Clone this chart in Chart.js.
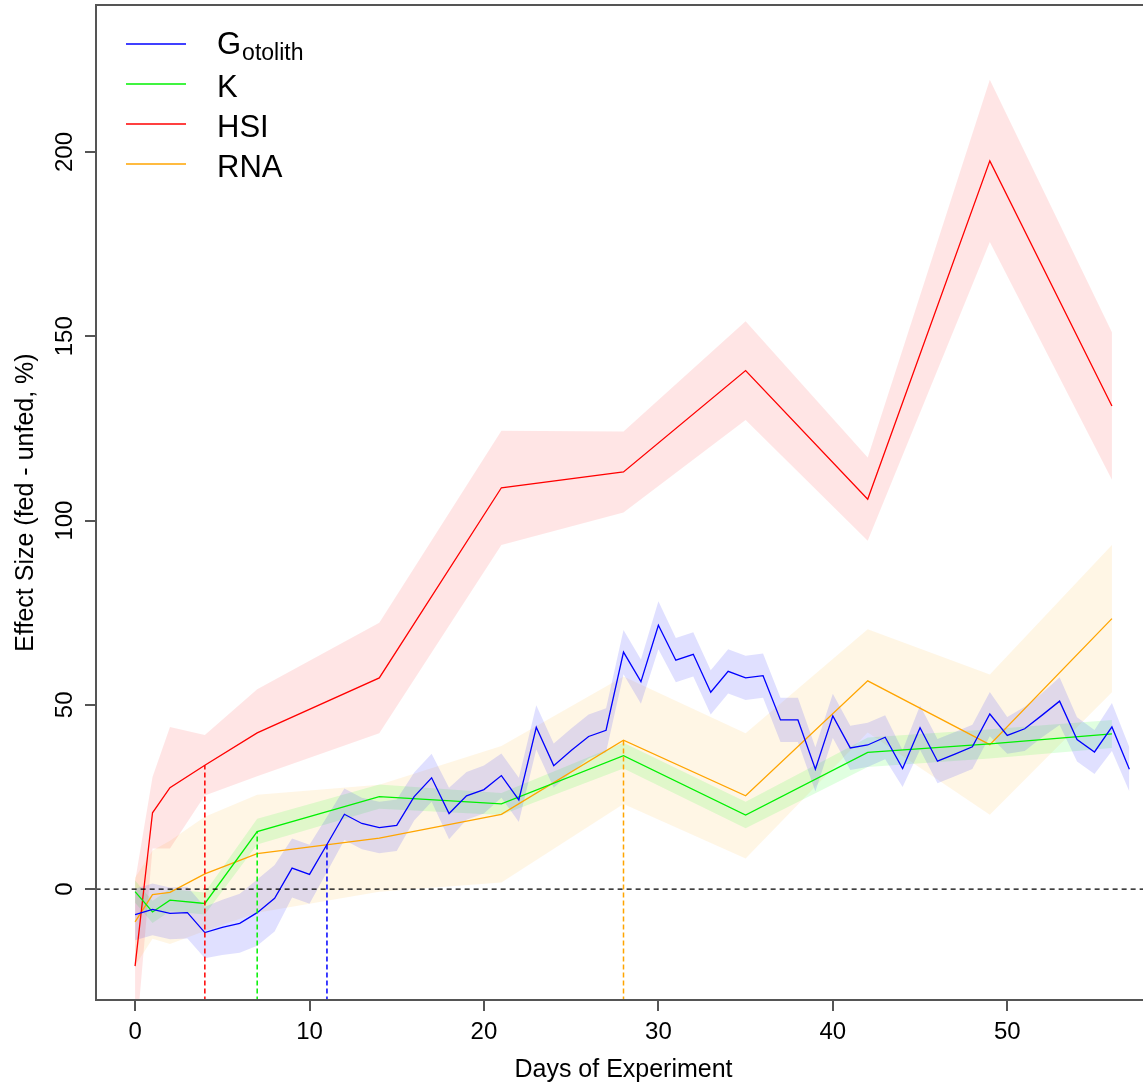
<!DOCTYPE html>
<html>
<head>
<meta charset="utf-8">
<script src="https://cdn.jsdelivr.net/npm/chart.js@4/dist/chart.umd.min.js"></script>
<style>
  html, body { margin: 0; padding: 0; overflow: hidden; background: #fff; }
  #wrap { position: absolute; left: 0; top: 0; width: 1160px; height: 1086px; }
</style>
</head>
<body>
<div id="wrap"><canvas id="effectChart" width="1160" height="1086"></canvas></div>
<script>
const FONT = "'Liberation Sans', Arial, Helvetica, sans-serif";

//Otolith growth, sampled every day
const gotolithDays = [0, 1, 2, 3, 4, 5, 6, 7, 8, 9, 10, 11, 12, 13, 14, 15, 16, 17, 18, 19,
  20, 21, 22, 23, 24, 25, 26, 27, 28, 29, 30, 31, 32, 33, 34, 35, 36, 37, 38, 39,
  40, 41, 42, 43, 44, 45, 46, 47, 48, 49, 50, 51, 52, 53, 54, 55, 56, 57];
const gotolith = [-6.9, -5.5, -6.6, -6.4, -11.8, -10.4, -9.3, -6.4, -2.5, 5.7,
  4.0, 12.1, 20.3, 17.8, 16.7, 17.3, 25.1, 30.2, 20.5, 25.3,
  27.0, 30.8, 24.2, 43.9, 33.5, 37.6, 41.4, 43.1, 64.3, 56.3,
  71.6, 62.1, 63.7, 53.4, 59.1, 57.3, 57.9, 45.9, 45.9, 32.5,
  47.0, 38.3, 39.1, 41.2, 32.7, 43.8, 34.7, 36.6, 38.6, 47.5,
  41.7, 43.5, 47.2, 51.0, 40.6, 37.2, 44.0, 32.5];
const gotolithSE = [7, 7, 7, 7, 7, 7.5, 8, 9, 9, 8,
  8, 7.5, 7, 7, 7, 7, 6.5, 6.5, 7, 6.5,
  6.5, 6, 6, 6, 6, 6, 6, 6, 6, 6,
  6.5, 6, 6, 6, 6, 6, 6, 6, 6, 6,
  6, 6, 6, 6, 5, 6, 6, 6, 6, 6,
  5, 6, 6, 6.5, 6, 6, 6.5, 6];

//K, HSI and RNA, sampled weekly
const sampleDays = [0, 1, 2, 4, 7, 14, 21, 28, 35, 42, 49, 56];
const kValues = [-0.7, -6.2, -3.0, -3.9, 15.6, 25.1, 23.1, 36.2, 20.1, 37.1, 39.4, 42.1];
const kSE = [3, 3, 3, 3, 3.5, 3.3, 3, 3.5, 3.6, 4, 4, 3.8];
const hsiValues = [-20.9, 20.7, 27.5, 33.6, 42.4, 57.3, 108.9, 113.2, 140.7, 105.8, 197.6, 131.1];
const hsiSE = [23, 9.7, 16.5, 8.2, 11.8, 15, 15.5, 11, 13.4, 11.3, 22, 20];
const rnaValues = [-8.9, -1.5, -0.9, 4.1, 9.6, 13.8, 20.3, 40.4, 25.3, 56.5, 39.2, 73.4];
const rnaSE = [12, 12, 14, 15.5, 16, 14.5, 18.5, 17.3, 17, 14, 19, 20];

//Day where fed and unfed first separate (dashed markers)
const splitDays = { gotolith: 11, k: 7, hsi: 4, rna: 28 };

const xTicks = [0, 10, 20, 30, 40, 50];
const yTicks = [0, 50, 100, 150, 200];

function points(days, vals, se, sign) {
  return days.map((d, i) => ({ x: d, y: vals[i] + sign * (se ? se[i] : 0) }));
}

const series = [
  { days: gotolithDays, vals: gotolith, se: gotolithSE, color: "#0000FF", band: "rgba(0,0,255,0.12)", split: splitDays.gotolith },
  { days: sampleDays, vals: kValues, se: kSE, color: "#00F000", band: "rgba(0,255,0,0.12)", split: splitDays.k },
  { days: sampleDays, vals: hsiValues, se: hsiSE, color: "#FF0000", band: "rgba(255,0,0,0.1)", split: splitDays.hsi },
  { days: sampleDays, vals: rnaValues, se: rnaSE, color: "#FFA500", band: "rgba(255,165,0,0.1)", split: splitDays.rna },
];

const datasets = [];
series.forEach((s) => {
  //band: lower edge, then upper edge filled down to it
  datasets.push({ data: points(s.days, s.vals, s.se, -1), borderWidth: 0, fill: false, order: 10 });
  datasets.push({ data: points(s.days, s.vals, s.se, 1), borderWidth: 0, fill: "-1", backgroundColor: s.band, order: 10 });
});
series.forEach((s) => {
  datasets.push({ data: points(s.days, s.vals, null, 0), borderColor: s.color, borderWidth: 1.3, fill: false, order: 2 });
});
series.forEach((s) => {
  const top = s.vals[s.days.indexOf(s.split)];
  datasets.push({
    data: [{ x: s.split, y: -100 }, { x: s.split, y: top }],
    borderColor: s.color, borderWidth: 1.5, borderDash: [5, 3], fill: false, order: 1,
  });
});
//zero line
datasets.push({
  data: [{ x: -10, y: 0 }, { x: 70, y: 0 }],
  borderColor: "#000", borderWidth: 1.3, borderDash: [5, 4], fill: false, order: 1,
});

//box, rotated y labels, axis titles and legend in R style
const rDecor = {
  id: "rDecor",
  afterDraw(chart) {
    const ctx = chart.ctx;
    const a = chart.chartArea;
    const yScale = chart.scales.y;
    ctx.save();
    ctx.strokeStyle = "#555";
    ctx.lineWidth = 2;
    ctx.strokeRect(a.left, a.top, a.right - a.left, a.bottom - a.top);

    ctx.fillStyle = "#000";
    ctx.font = "24px " + FONT;
    ctx.textAlign = "center";
    ctx.textBaseline = "alphabetic";
    yTicks.forEach((v) => {
      ctx.save();
      ctx.translate(72, yScale.getPixelForValue(v));
      ctx.rotate(-Math.PI / 2);
      ctx.fillText(String(v), 0, 0);
      ctx.restore();
    });

    ctx.font = "25px " + FONT;
    ctx.save();
    ctx.translate(33, (a.top + a.bottom) / 2);
    ctx.rotate(-Math.PI / 2);
    ctx.fillText("Effect Size (fed - unfed, %)", 0, 0);
    ctx.restore();

    ctx.fillText("Days of Experiment", (a.left + a.right) / 2, 1077);

    //legend
    const rows = [
      { color: "#0000FF", y: 44, label: "G", sub: "otolith" },
      { color: "#00F000", y: 84, label: "K" },
      { color: "#FF0000", y: 124, label: "HSI" },
      { color: "#FFA500", y: 164, label: "RNA" },
    ];
    ctx.textAlign = "left";
    rows.forEach((r) => {
      ctx.strokeStyle = r.color;
      ctx.lineWidth = 1.3;
      ctx.beginPath();
      ctx.moveTo(126, r.y);
      ctx.lineTo(186, r.y);
      ctx.stroke();
      ctx.font = "31px " + FONT;
      if (r.sub) {
        ctx.fillText(r.label, 217, r.y + 10);
        const w = ctx.measureText(r.label).width;
        ctx.font = "23px " + FONT;
        ctx.fillText(r.sub, 217 + w + 1, r.y + 16);
      } else {
        ctx.fillText(r.label, 217, r.y + 13);
      }
    });
    ctx.restore();
  },
};

new Chart(document.getElementById("effectChart"), {
  type: "line",
  data: { datasets: datasets },
  options: {
    responsive: false,
    animation: false,
    devicePixelRatio: 1,
    layout: { padding: { left: 0, right: 9, top: 5, bottom: 0 } },
    elements: { point: { radius: 0 }, line: { tension: 0 } },
    plugins: { legend: { display: false }, tooltip: { enabled: false } },
    scales: {
      x: {
        type: "linear",
        min: -2.24,
        max: 58.24,
        afterBuildTicks: (s) => { s.ticks = xTicks.map((v) => ({ value: v })); },
        afterFit: (s) => { s.height = 86; },
        border: { display: false },
        grid: { drawOnChartArea: false, tickLength: 11, color: "#555", lineWidth: 2 },
        ticks: { font: { family: FONT, size: 24 }, color: "#000", padding: 7, maxRotation: 0, autoSkip: false },
      },
      y: {
        type: "linear",
        min: -30.1,
        max: 239.9,
        afterBuildTicks: (s) => { s.ticks = yTicks.map((v) => ({ value: v })); },
        afterFit: (s) => { s.width = 96; },
        border: { display: false },
        grid: { drawOnChartArea: false, tickLength: 11, color: "#555", lineWidth: 2 },
        ticks: { display: false },
      },
    },
  },
  plugins: [rDecor],
});
</script>
</body>
</html>
